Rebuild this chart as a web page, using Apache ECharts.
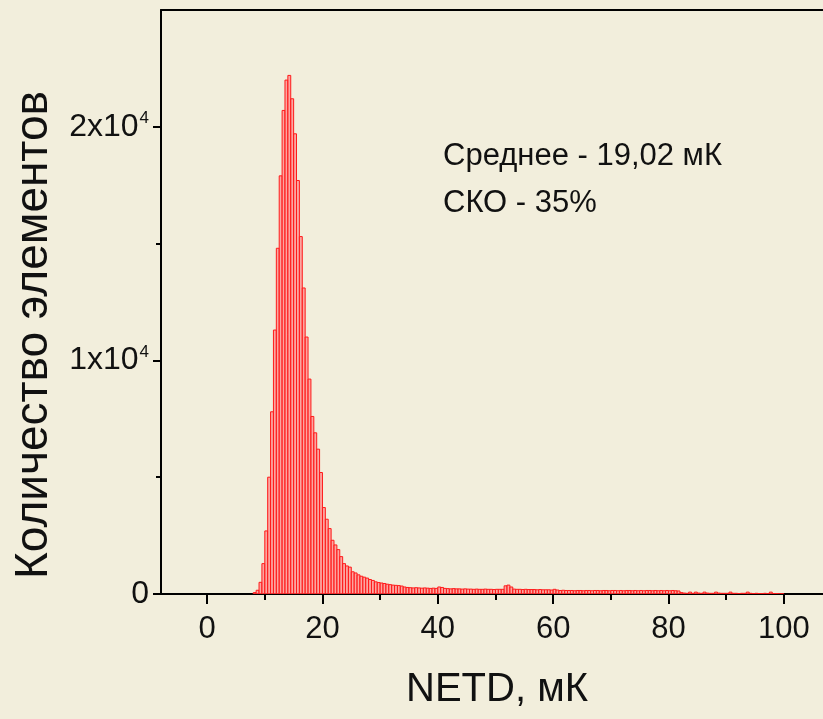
<!DOCTYPE html>
<html>
<head>
<meta charset="utf-8">
<script src="https://cdn.jsdelivr.net/npm/echarts@6/dist/echarts.min.js"></script>
<style>
html,body{margin:0;padding:0;background:#f2eedc;}
#chart{width:823px;height:719px;}
</style>
</head>
<body>
<div id="chart"></div>
<script>
// Histogram bins: left edge (mK), width 0.5 mK
const binWidth = 0.5;
const binLeft = [
  8.0,8.5,9.0,9.5,10.0,10.5,11.0,11.5,12.0,12.5,
  13.0,13.5,14.0,14.5,15.0,15.5,16.0,16.5,17.0,17.5,
  18.0,18.5,19.0,19.5,20.0,20.5,21.0,21.5,22.0,22.5,
  23.0,23.5,24.0,24.5,25.0,25.5,26.0,26.5,27.0,27.5,
  28.0,28.5,29.0,29.5,30.0,30.5,31.0,31.5,32.0,32.5,
  33.0,33.5,34.0,34.5,35.0,35.5,36.0,36.5,37.0,37.5,
  38.0,38.5,39.0,39.5,40.0,40.5,41.0,41.5,42.0,42.5,
  43.0,43.5,44.0,44.5,45.0,45.5,46.0,46.5,47.0,47.5,
  48.0,48.5,49.0,49.5,50.0,50.5,51.0,51.5,52.0,52.5,
  53.0,53.5,54.0,54.5,55.0,55.5,56.0,56.5,57.0,57.5,
  58.0,58.5,59.0,59.5,60.0,60.5,61.0,61.5,62.0,62.5,
  63.0,63.5,64.0,64.5,65.0,65.5,66.0,66.5,67.0,67.5,
  68.0,68.5,69.0,69.5,70.0,70.5,71.0,71.5,72.0,72.5,
  73.0,73.5,74.0,74.5,75.0,75.5,76.0,76.5,77.0,77.5,
  78.0,78.5,79.0,79.5,80.0,80.5,81.0,81.5,82.0,82.5,
  83.0,83.5,84.0,84.5,85.0,85.5,86.0,86.5,87.0,87.5,
  88.0,88.5,89.0,89.5,90.0,90.5,91.0,91.5,92.0,92.5,
  93.0,93.5,94.0,94.5,95.0,95.5,96.0,96.5,97.0,97.5,
  98.0,98.5,99.0,99.5
];
const counts = [
  60,160,500,1300,2700,5000,7800,11300,14800,17900,
  20700,22000,22200,21200,19700,17700,15300,13100,11000,9200,
  7600,6900,6200,5200,3700,3200,2800,2300,2100,1900,
  1600,1300,1200,1150,950,900,820,760,720,680,
  620,580,520,490,470,450,420,400,380,370,
  360,340,300,280,270,260,270,260,250,260,
  250,240,250,240,300,280,240,230,220,230,
  220,220,210,220,210,210,200,210,200,200,
  210,200,200,190,200,200,200,350,380,300,
  210,200,200,190,200,190,190,190,180,190,
  180,180,180,170,200,170,150,160,150,150,
  150,140,150,150,140,150,150,140,150,150,
  140,150,150,140,150,150,140,150,140,150,
  150,140,150,140,150,140,150,150,140,150,
  140,150,140,150,140,150,140,130,60,40,
  30,80,30,80,40,30,80,40,30,30,
  80,40,30,30,30,80,30,30,20,30,
  30,80,30,20,30,20,20,30,20,80,
  20,20,10,10
];
const xMajorTicks = [0,20,40,60,80,100];
const xMinorTicks = [10,30,50,70,90];
const yMajorTicks = [0,10000,20000];
const yMinorTicks = [5000,15000];
const annotation = ['Среднее - 19,02 мК', 'СКО - 35%'];
const xTitle = 'NETD, мК';
const yTitle = 'Количество элементов';

const data = binLeft.map((x, i) => [x, x + binWidth, counts[i]]);

const chart = echarts.init(document.getElementById('chart'), null, {renderer: 'canvas'});
const FONT = 'Liberation Sans, Arial, sans-serif';
const axisLine = {show: true, onZero: false, lineStyle: {color: '#000', width: 2}};
const X_MIN = -8, X_MAX = 106.8;
chart.setOption({
  backgroundColor: '#f2eedc',
  animation: false,
  grid: {left: 161, top: 10, right: 0, bottom: 125, show: false},
  xAxis: [{
    type: 'value', min: X_MIN, max: X_MAX, position: 'bottom',
    axisLine: axisLine,
    axisTick: {show: true, inside: false, length: 10, lineStyle: {color: '#000', width: 2}, customValues: xMajorTicks},
    axisLabel: {show: true, margin: 20, fontSize: 31, color: '#111', fontFamily: FONT, customValues: xMajorTicks},
    splitLine: {show: false}
  }, {
    type: 'value', min: X_MIN, max: X_MAX, position: 'bottom',
    axisLine: {show: false, onZero: false},
    axisTick: {show: true, inside: false, length: 6, lineStyle: {color: '#000', width: 2}, customValues: xMinorTicks},
    axisLabel: {show: false},
    splitLine: {show: false}
  }, {
    type: 'value', min: X_MIN, max: X_MAX, position: 'top',
    axisLine: axisLine,
    axisTick: {show: false},
    axisLabel: {show: false},
    splitLine: {show: false}
  }],
  yAxis: [{
    type: 'value', min: 0, max: 25000, position: 'left',
    axisLine: axisLine,
    axisTick: {show: true, inside: false, length: 8, lineStyle: {color: '#000', width: 2}, customValues: yMajorTicks},
    axisLabel: {
      show: true, margin: 12, color: '#111', fontFamily: FONT, customValues: yMajorTicks,
      formatter: function (v) { return v === 0 ? '{b|0}' : '{b|' + (v / 10000) + 'x10}{s|4}'; },
      rich: {
        b: {fontSize: 32, fontFamily: FONT, color: '#111'},
        s: {fontSize: 17, fontFamily: FONT, color: '#111', verticalAlign: 'bottom', padding: [0, 0, 17, 1]}
      }
    },
    splitLine: {show: false}
  }, {
    type: 'value', min: 0, max: 25000, position: 'left',
    axisLine: {show: false, onZero: false},
    axisTick: {show: true, inside: false, length: 5, lineStyle: {color: '#000', width: 2}, customValues: yMinorTicks},
    axisLabel: {show: false},
    splitLine: {show: false}
  }],
  series: [{
    type: 'custom',
    xAxisIndex: 0, yAxisIndex: 0,
    clip: true,
    data: data,
    encode: {x: [0, 1], y: 2},
    renderItem: function (params, api) {
      const p0 = api.coord([api.value(0), 0]);
      const p1 = api.coord([api.value(1), api.value(2)]);
      return {
        type: 'rect',
        shape: {x: p0[0], y: p1[1], width: p1[0] - p0[0], height: p0[1] - p1[1]},
        style: {fill: 'rgba(255,140,140,0.75)', stroke: '#ff1a1a', lineWidth: 1}
      };
    }
  }],
  graphic: [
    {type: 'text', left: 443, top: 141, style: {text: annotation[0], font: '31px ' + FONT, fill: '#111'}},
    {type: 'text', left: 443, top: 188, style: {text: annotation[1], font: '31px ' + FONT, fill: '#111'}},
    {type: 'text', x: 497, y: 690, style: {text: xTitle, font: '40px ' + FONT, fill: '#111', align: 'center', verticalAlign: 'middle'}},
    {type: 'text', x: 34, y: 335, rotation: Math.PI / 2, style: {text: yTitle, font: '46px ' + FONT, fill: '#111', align: 'center', verticalAlign: 'middle'}}
  ]
});
</script>
</body>
</html>
